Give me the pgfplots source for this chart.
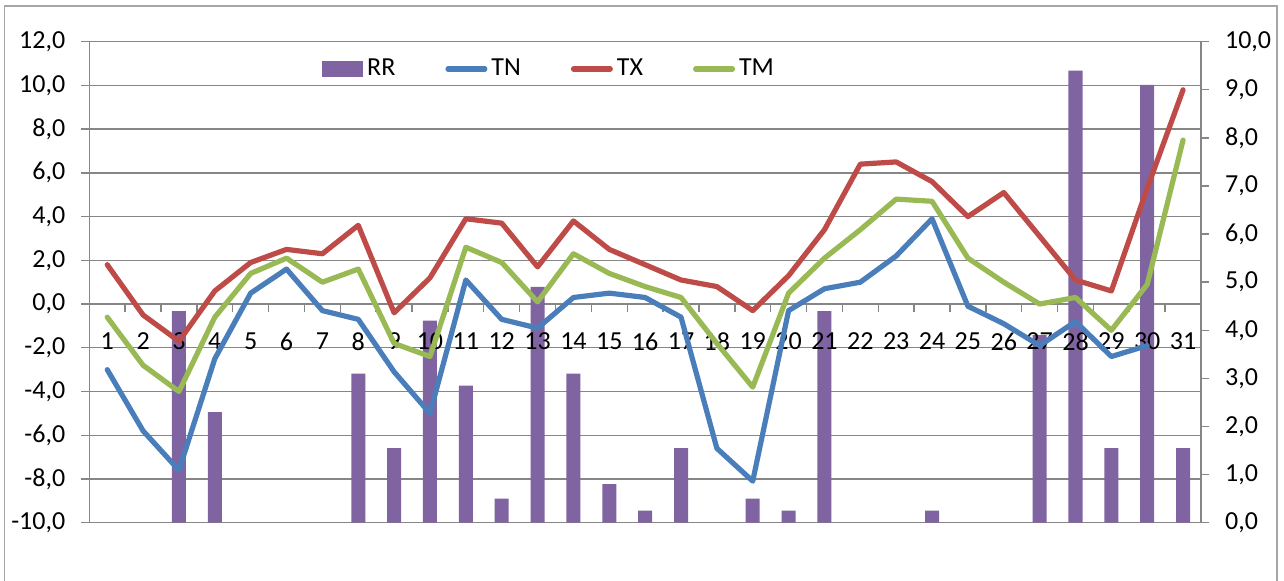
\documentclass[border=0pt]{standalone}
\usepackage{fontspec}
\setmainfont{Carlito}
\usepackage{pgfplots}
\pgfplotsset{compat=1.18}
\definecolor{rrcol}{HTML}{8064A2}
\definecolor{tncol}{HTML}{4A7EBB}
\definecolor{txcol}{HTML}{BE4B48}
\definecolor{tmcol}{HTML}{98B954}
\definecolor{gridcol}{HTML}{868686}
\definecolor{framecol}{HTML}{A6A6A6}
\pgfplotsset{
  base/.style={
    scale only axis, width=555.85pt, height=240.5pt,
    at={(44.65pt,29.15pt)}, anchor=south west,
    xmin=0.5, xmax=31.5,
    tick label style={font=\fontsize{13}{15.5}\selectfont},
    /pgf/number format/fixed,
    /pgf/number format/fixed zerofill,
    /pgf/number format/precision=1,
    /pgf/number format/use comma,
    /pgf/number format/assume math mode=true,
  },
  tline/.style={line width=2.6pt, line cap=round, line join=round},
}
\begin{document}
\begin{tikzpicture}
\useasboundingbox (0,0) rectangle (642pt,290.5pt);
\draw[framecol, line width=0.8pt] (2.25pt,-2pt) -- (2.25pt,287.5pt) -- (638.5pt,287.5pt) -- (638.5pt,-2pt);
% grid and left axis
\begin{axis}[base,
  ymin=-10, ymax=12, ytick={-10,-8,...,12},
  axis x line=middle, axis y line=left,
  axis line style={-, draw=gridcol, line width=0.7pt},
  ymajorgrids, grid style={draw=gridcol, line width=0.7pt},
  xtick={0.5,1.5,...,31.5}, xticklabels={},
  tick align=outside, major tick length=4pt,
  tick style={draw=gridcol, line width=0.7pt},
  yticklabel style={xshift=-4.5pt},
]
\end{axis}
% bars on right axis
\begin{axis}[base,
  ymin=0, ymax=10, ytick={0,1,...,10},
  axis y line*=right, axis x line=none,
  axis line style={-, draw=gridcol, line width=0.7pt},
  tick align=outside, major tick length=4pt,
  tick style={draw=gridcol, line width=0.7pt},
  yticklabel style={xshift=4.5pt},
  ybar, bar width=7pt,
]
\addplot[fill=rrcol, draw=none] coordinates {
(3,4.4) (4,2.3) (8,3.1) (9,1.55) (10,4.2) (11,2.85) (12,0.5) (13,4.9)
(14,3.1) (15,0.8) (16,0.25) (17,1.55) (19,0.5) (20,0.25) (21,4.4)
(24,0.25) (27,3.9) (28,9.4) (29,1.55) (30,9.1) (31,1.55)};
\end{axis}
% lines on left axis
\begin{axis}[base,
  ymin=-10, ymax=12,
  axis x line=middle, axis y line=none,
  x axis line style={draw=none},
  xtick={1,...,31}, major tick length=0pt,
  xticklabel={\pgfmathprintnumber[fixed, precision=0, fixed zerofill=false]{\tick}},
  xticklabel style={yshift=-11pt},
  legend columns=4,
  legend style={draw=none, fill=none, at={(0.2093,0.9432)}, anchor=west,
    inner sep=0pt, font=\fontsize{13}{15.5}\selectfont,
    /tikz/every even column/.append style={column sep=23pt}},
  legend image code/.code={\draw[#1] (1.3pt,0pt) -- (19.7pt,0pt);},
]
\addlegendimage{legend image code/.code={\fill[rrcol] (0pt,-3.75pt) rectangle (20pt,3.75pt);}}
\addlegendentry{RR}
\addplot[tncol, tline] coordinates {
(1,-3.0) (2,-5.8) (3,-7.6) (4,-2.5) (5,0.5) (6,1.6) (7,-0.3) (8,-0.7)
(9,-3.1) (10,-5.0) (11,1.1) (12,-0.7) (13,-1.1) (14,0.3) (15,0.5) (16,0.3)
(17,-0.6) (18,-6.6) (19,-8.1) (20,-0.3) (21,0.7) (22,1.0) (23,2.2) (24,3.9)
(25,-0.1) (26,-0.9) (27,-1.9) (28,-0.8) (29,-2.4) (30,-1.9)};
\addlegendentry{TN}
\addplot[txcol, tline] coordinates {
(1,1.8) (2,-0.5) (3,-1.7) (4,0.6) (5,1.9) (6,2.5) (7,2.3) (8,3.6)
(9,-0.4) (10,1.2) (11,3.9) (12,3.7) (13,1.7) (14,3.8) (15,2.5) (16,1.8)
(17,1.1) (18,0.8) (19,-0.3) (20,1.3) (21,3.4) (22,6.4) (23,6.5) (24,5.6)
(25,4.0) (26,5.1) (27,3.1) (28,1.1) (29,0.6) (30,5.3) (31,9.8)};
\addlegendentry{TX}
\addplot[tmcol, tline] coordinates {
(1,-0.6) (2,-2.8) (3,-4.0) (4,-0.6) (5,1.4) (6,2.1) (7,1.0) (8,1.6)
(9,-1.8) (10,-2.4) (11,2.6) (12,1.9) (13,0.1) (14,2.3) (15,1.4) (16,0.8)
(17,0.3) (18,-1.8) (19,-3.8) (20,0.5) (21,2.1) (22,3.4) (23,4.8) (24,4.7)
(25,2.1) (26,1.0) (27,0.0) (28,0.3) (29,-1.2) (30,0.9) (31,7.5)};
\addlegendentry{TM}
\end{axis}
\end{tikzpicture}
\end{document}
